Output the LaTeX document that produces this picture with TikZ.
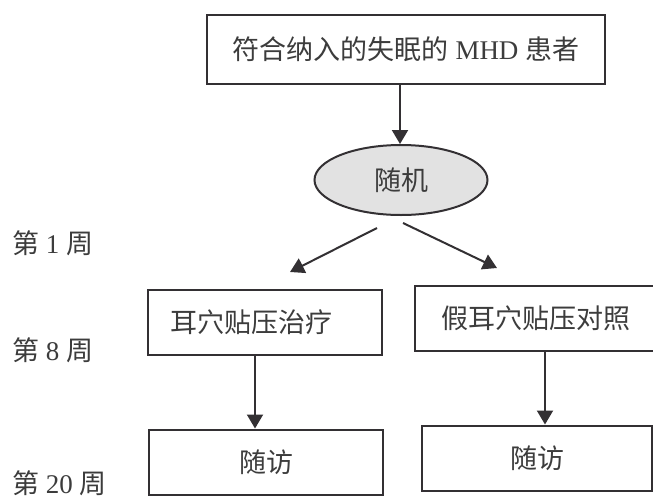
\documentclass[tikz,border=0pt]{standalone}
\usepackage{fontspec}
\setmainfont{Liberation Serif}
\newfontfamily\cjk{Noto Sans CJK SC}
\usetikzlibrary{arrows.meta,shapes.geometric}
\definecolor{ink}{HTML}{333033}
\definecolor{txt}{HTML}{3C3C3C}
\definecolor{ellfill}{HTML}{E2E2E2}
\tikzset{
  box/.style={draw=ink, line width=2pt, rectangle, inner sep=0pt, text=txt,
              font=\fontsize{27}{30}\selectfont},
  arr/.style={draw=ink, line width=2pt, -{Triangle[length=14pt,width=16pt]}},
  weeklbl/.style={anchor=west, text=txt, inner sep=0pt, font=\fontsize{27}{30}\selectfont}
}
\begin{document}
\begin{tikzpicture}[x=1pt,y=-1pt]
\useasboundingbox (0,0) rectangle (653,501);
% top box
\node[box, minimum width=398pt, minimum height=69pt] (top) at (406,49)
  {{\cjk 符合纳入的失眠的} MHD {\cjk 患者}};
% ellipse
\node[draw=ink, line width=2pt, ellipse, fill=ellfill, minimum width=173pt,
      minimum height=70pt, inner sep=0pt, text=txt, font=\fontsize{27}{30}\selectfont]
  (rand) at (401,180) {\cjk 随机};
\draw[arr] (top.south -| 400,0) -- (rand.north -| 400,0);
% middle boxes
\node[box, minimum width=234pt, minimum height=65pt, text width=190pt, align=left,
      inner xsep=22pt] (treat) at (265,322) {\cjk 耳穴贴压治疗};
\node[box, minimum width=242pt, minimum height=65pt] (sham) at (536,318) {\cjk 假耳穴贴压对照};
% bottom boxes
\node[box, minimum width=234pt, minimum height=65pt] (fu1) at (266,462) {\cjk 随访};
\node[box, minimum width=230pt, minimum height=65pt] (fu2) at (537,458) {\cjk 随访};
% diagonal arrows
\coordinate (s1) at (377,228);
\coordinate (s2) at (403,223);
\coordinate (t1) at (290,272);
\coordinate (t2) at (497,268);
\draw[arr] (s1) -- (t1);
\draw[arr] (s2) -- (t2);
% vertical arrows
\draw[arr] (treat.south -| 255,0) -- (fu1.north -| 255,0);
\draw[arr] (sham.south -| 545,0) -- (fu2.north -| 545,0);
% week labels
\node[weeklbl] (w1) at (12,243) {{\cjk 第} 1 {\cjk 周}};
\node[weeklbl] (w8) at (12,350) {{\cjk 第} 8 {\cjk 周}};
\node[weeklbl] (w20) at (12,483) {{\cjk 第} 20 {\cjk 周}};
\end{tikzpicture}
\end{document}
